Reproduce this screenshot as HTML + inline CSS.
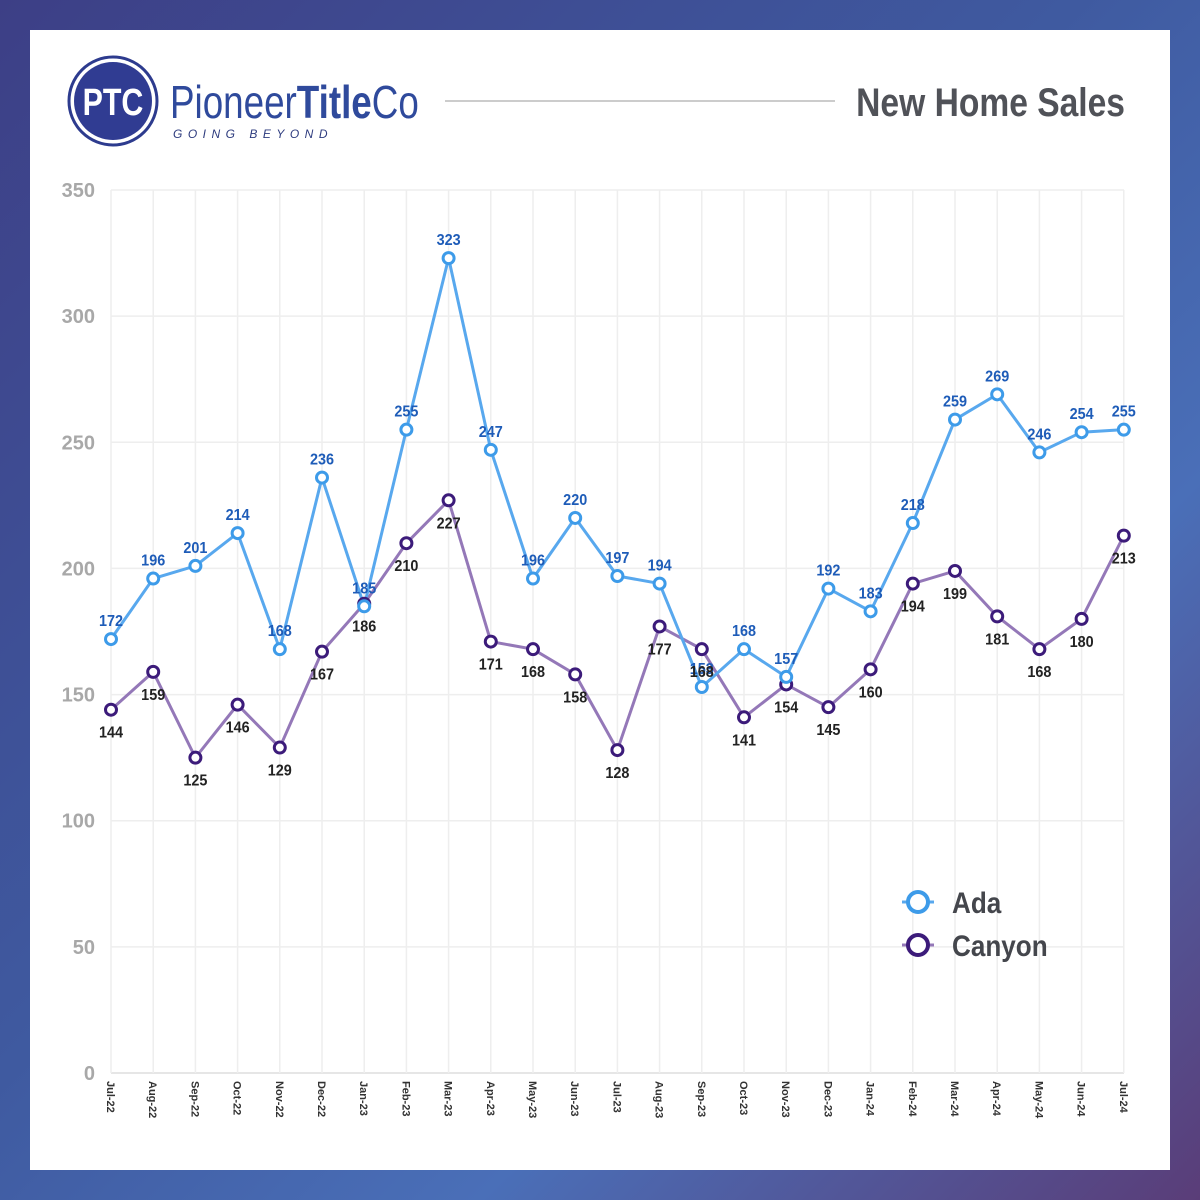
<!DOCTYPE html>
<html><head><meta charset="utf-8"><style>
html,body{margin:0;padding:0;width:1200px;height:1200px;overflow:hidden}
body{background:linear-gradient(135deg,#3d3f86 0%,#3f5aa0 45%,#4a6fb8 70%,#5a3d78 100%)}
#panel{position:absolute;left:30px;top:30px;width:1140px;height:1140px;background:#fff}
svg{position:absolute;left:0;top:0}
</style></head><body>
<div id="panel"></div>
<svg id="s" width="1200" height="1200" xmlns="http://www.w3.org/2000/svg" font-family="Liberation Sans, sans-serif">
<circle cx="113" cy="101" r="44" fill="#fff" stroke="#2d3b8e" stroke-width="3"/>
<circle cx="113" cy="101" r="39" fill="#303c92"/>
<text x="113" y="115" font-size="38" font-weight="bold" fill="#fff" text-anchor="middle" transform="translate(113,0) scale(0.8,1) translate(-113,0)">PTC</text>
<text x="170" y="118" font-size="46" fill="#2f4a9c" transform="translate(170,0) scale(0.8,1) translate(-170,0)">Pioneer<tspan font-weight="bold">Title</tspan>Co</text>
<text x="173" y="138" font-size="12" font-style="italic" fill="#2d3b7e" letter-spacing="5.5">GOING BEYOND</text>
<line x1="445" y1="101" x2="835" y2="101" stroke="#ccc" stroke-width="2"/>
<text x="1125" y="116" font-size="40" font-weight="bold" fill="#505258" text-anchor="end" transform="translate(1125,0) scale(0.84,1) translate(-1125,0)">New Home Sales</text>
<g id="g"></g>
</svg>
<script>
var ada=[172,196,201,214,168,236,185,255,323,247,196,220,197,194,153,168,157,192,183,218,259,269,246,254,255];
var can=[144,159,125,146,129,167,186,210,227,171,168,158,128,177,168,141,154,145,160,194,199,181,168,180,213];
var mon=['Jul','Aug','Sep','Oct','Nov','Dec','Jan','Feb','Mar','Apr','May','Jun'];
function X(i){return 111+i*42.2}
function Y(v){return 1073-v*883/350}
var h='';
for(var v=0;v<=350;v+=50){h+='<line x1="111" x2="1124" y1="'+Y(v)+'" y2="'+Y(v)+'" stroke="'+(v?'#eee':'#ddd')+'" stroke-width="1.5"/>';
h+='<text x="95" y="'+(Y(v)+7)+'" font-size="20" font-weight="bold" fill="#a8a8a8" text-anchor="end">'+v+'</text>';}
for(var i=0;i<25;i++){var x=X(i);h+='<line x1="'+x+'" x2="'+x+'" y1="190" y2="1073" stroke="#eee" stroke-width="1.5"/>';
var m=(i)%12,yr=22+Math.floor((i+6)/12);var lab=mon[m]+'-'+yr;
h+='<text transform="translate('+(x-4)+',1081) rotate(90)" font-size="11" font-weight="bold" fill="#333">'+lab+'</text>';}
function line(d,c){var p=d.map(function(v,i){return X(i)+','+Y(v)}).join(' ');return '<polyline points="'+p+'" fill="none" stroke="'+c+'" stroke-width="3"/>';}
h+=line(can,'#9478b8');h+=line(ada,'#58a8ee');
function t(x,y,s,c){return '<text transform="translate('+x+','+y+') scale(0.9,1)" font-size="16" font-weight="bold" fill="'+c+'" text-anchor="middle">'+s+'</text>';}
for(var i=0;i<25;i++){
h+='<circle cx="'+X(i)+'" cy="'+Y(can[i])+'" r="5.5" fill="#fff" stroke="#3c1b7a" stroke-width="3"/>';
h+='<circle cx="'+X(i)+'" cy="'+Y(ada[i])+'" r="5.5" fill="#fff" stroke="#3d9be9" stroke-width="3"/>';
h+=t(X(i),Y(ada[i])-13,ada[i],'#1e5cb8');
h+=t(X(i),Y(can[i])+28,can[i],'#222');}
h+='<line x1="902" x2="934" y1="902" y2="902" stroke="#58a8ee" stroke-width="3"/><circle cx="918" cy="902" r="10" fill="#fff" stroke="#3d9be9" stroke-width="4"/>';
h+='<line x1="902" x2="934" y1="945" y2="945" stroke="#9478b8" stroke-width="3"/><circle cx="918" cy="945" r="10" fill="#fff" stroke="#3c1b7a" stroke-width="4"/>';
h+='<text transform="translate(952,913) scale(0.87,1)" font-size="30" font-weight="bold" fill="#44464c">Ada</text>';
h+='<text transform="translate(952,956) scale(0.87,1)" font-size="30" font-weight="bold" fill="#44464c">Canyon</text>';
document.getElementById('g').innerHTML=h;
</script>
</body></html>
